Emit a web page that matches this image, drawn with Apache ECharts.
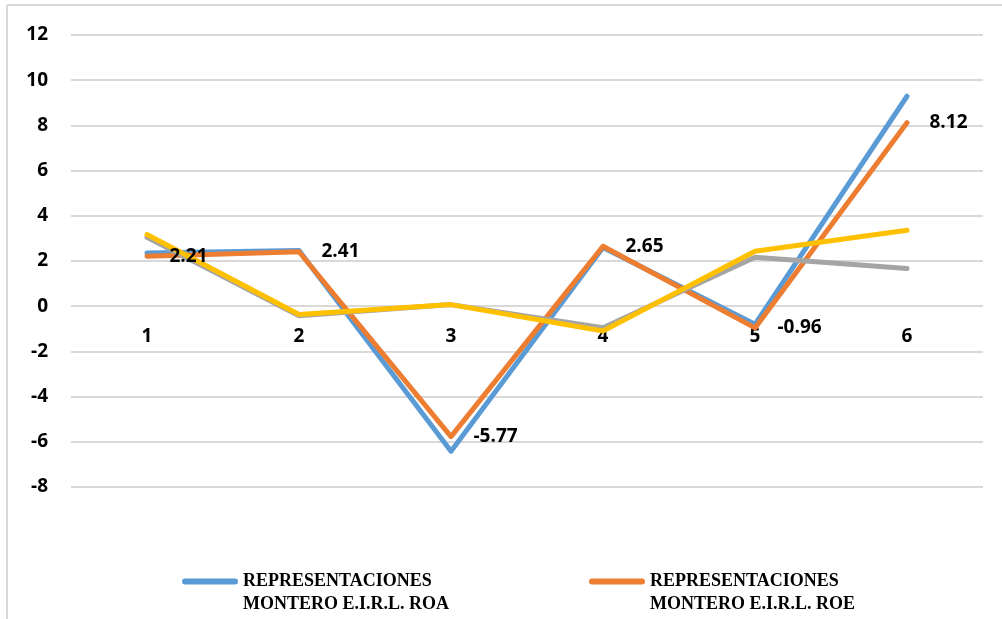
<!DOCTYPE html>
<html>
<head>
<meta charset="utf-8">
<script src="https://cdn.jsdelivr.net/npm/echarts@6/dist/echarts.min.js"></script>
<style>
  html, body { margin: 0; padding: 0; background: #fff; }
  #chart { width: 1002px; height: 619px; }
</style>
</head>
<body>
<div id="chart"></div>
<script>
// datos
const categories = ["1", "2", "3", "4", "5", "6"];
const roa = [2.35, 2.46, -6.42, 2.6, -0.8, 9.29];
const roe = [2.21, 2.41, -5.77, 2.65, -0.96, 8.12];
const serieGris = [3.05, -0.42, 0.07, -0.95, 2.17, 1.67];
const serieAmarilla = [3.17, -0.37, 0.07, -1.1, 2.43, 3.36];

const nombreRoa = "REPRESENTACIONES\nMONTERO E.I.R.L. ROA";
const nombreRoe = "REPRESENTACIONES\nMONTERO E.I.R.L. ROE";

const fuente = "Open Sans";

const chart = echarts.init(document.getElementById("chart"));

const lineSerie = (name, data, color, z) => ({
  name: name,
  type: "line",
  data: data,
  z: z,
  symbol: "circle",
  symbolSize: 2,
  lineStyle: { color: color, width: 5, cap: "round", join: "round" },
  itemStyle: { color: color },
});

// icono de leyenda: barra redondeada arriba, alineada con la primera línea
const iconoLeyenda = "path://M3,0 L53,0 A3,3 0 0 1 53,6 L3,6 A3,3 0 0 1 3,0 Z M0,29 L56,29";

const legendBase = {
  top: 565,
  itemWidth: 56,
  itemHeight: 29,
  icon: iconoLeyenda,
  textStyle: {
    fontFamily: "Liberation Serif",
    fontWeight: "bold",
    fontSize: 18,
    color: "#000",
    lineHeight: 23,
  },
};

chart.setOption({
  animation: false,
  backgroundColor: "#fff",
  grid: { left: 71, right: 19, top: 35, bottom: 132 },
  graphic: [
    { type: "line", shape: { x1: 7, y1: 5, x2: 1002, y2: 5 }, style: { stroke: "#d9d9d9", lineWidth: 2 } },
    { type: "line", shape: { x1: 7, y1: 5, x2: 7, y2: 619 }, style: { stroke: "#d9d9d9", lineWidth: 2 } },
  ],
  legend: [
    Object.assign({}, legendBase, { left: 177, data: [nombreRoa] }),
    Object.assign({}, legendBase, { left: 584, data: [nombreRoe] }),
  ],
  xAxis: {
    type: "category",
    data: categories,
    boundaryGap: true,
    position: "bottom",
    offset: -181,
    axisLine: { show: false, onZero: false },
    axisTick: { show: false },
    axisLabel: {
      margin: 21,
      fontFamily: fuente,
      fontWeight: "bold",
      fontSize: 19,
      color: "#000",
    },
  },
  yAxis: {
    type: "value",
    min: -8,
    max: 12,
    interval: 2,
    axisLine: { show: false },
    axisTick: { show: false },
    axisLabel: {
      margin: 23,
      fontFamily: fuente,
      fontWeight: "bold",
      fontSize: 19,
      color: "#000",
    },
    splitLine: { lineStyle: { color: "#d9d9d9", width: 2 } },
  },
  series: [
    lineSerie(nombreRoa, roa, "#5b9bd5", 2),
    lineSerie(nombreRoe, roe, "#ed7d31", 3),
    lineSerie("SECTOR ROA", serieGris, "#a5a5a5", 4),
    lineSerie("SECTOR ROE", serieAmarilla, "#ffc000", 5),
    // etiquetas de ROE encima de todas las líneas
    {
      name: "etiquetas ROE",
      type: "line",
      data: roe,
      z: 10,
      symbol: "circle",
      symbolSize: 1,
      lineStyle: { opacity: 0 },
      itemStyle: { opacity: 0 },
      label: {
        show: true,
        position: "right",
        distance: 22,
        fontFamily: fuente,
        fontWeight: "bold",
        fontSize: 19,
        color: "#000",
        opacity: 1,
      },
    },
  ],
});
</script>
</body>
</html>
